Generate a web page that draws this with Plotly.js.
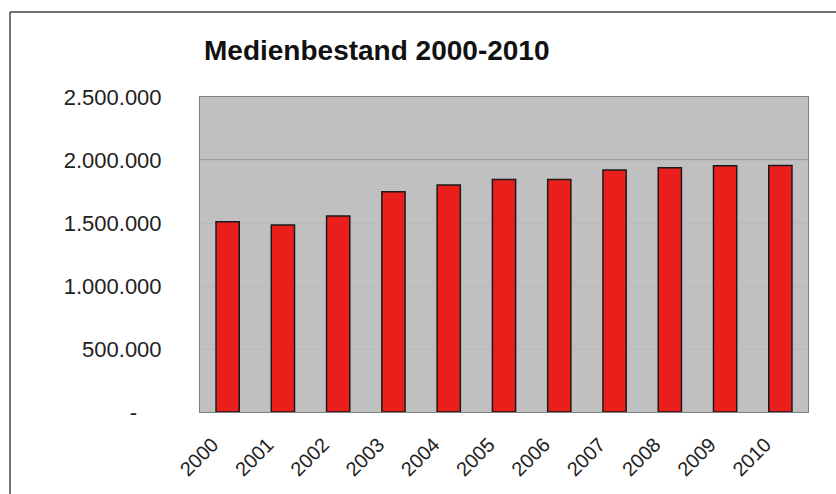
<!DOCTYPE html>
<html>
<head>
<meta charset="utf-8">
<script src="https://cdn.plot.ly/plotly-3.0.1.min.js"></script>
<style>
  html, body { margin: 0; padding: 0; background: #ffffff; }
  #chart { width: 836px; height: 494px; }
</style>
</head>
<body>
<div id="chart"></div>
<script>
// Data
const years = ['2000','2001','2002','2003','2004','2005','2006','2007','2008','2009','2010'];
const bestand = [1510000, 1484000, 1556000, 1748000, 1802000, 1845000, 1845000, 1920000, 1939000, 1955000, 1957000];
const yTickVals = [0, 500000, 1000000, 1500000, 2000000, 2500000];
const yTickText = ['-\u00a0\u00a0\u00a0\u00a0', '500.000', '1.000.000', '1.500.000', '2.000.000', '2.500.000'];
const chartTitle = 'Medienbestand 2000-2010';
const gridHighlight = 2000000;

const FONT = 'Arial, "Liberation Sans", sans-serif';

const trace = {
  type: 'bar',
  x: years,
  y: bestand,
  width: 0.42,
  marker: { color: '#ea1f1c', line: { color: '#1a1a1a', width: 1.5 } },
  hoverinfo: 'x+y'
};

// plot area: left 200, right 808, top 97, bottom 412
const L = 200, R = 808, T = 97, B = 412, W = 836, H = 494;
const pw = R - L, ph = B - T;
const px = v => (v - L) / pw;
const py = v => (B - v) / ph;

const layout = {
  width: W, height: H,
  margin: { l: L, r: W - R, t: T, b: H - B, pad: 0 },
  paper_bgcolor: '#ffffff',
  plot_bgcolor: '#c0c0c0',
  showlegend: false,
  title: {
    text: '<b>' + chartTitle + '</b>',
    font: { family: FONT, size: 28, color: '#111111' },
    xref: 'paper', x: px(204), xanchor: 'left',
    yref: 'container', y: 1 - 50 / H, yanchor: 'middle'
  },
  xaxis: {
    type: 'category',
    tickangle: -45,
    tickfont: { family: FONT, size: 20, color: '#222222' },
    showgrid: false,
    zeroline: false,
    showline: true, linecolor: '#808080', linewidth: 1, mirror: true,
    ticks: '', ticklabelstandoff: 12, ticklabelshift: -15
  },
  yaxis: {
    range: [0, 2500000],
    tickvals: yTickVals,
    ticktext: yTickText,
    tickfont: { family: FONT, size: 22, color: '#222222' },
    showgrid: true, gridcolor: '#b9b9b9', gridwidth: 1,
    zeroline: false,
    showline: true, linecolor: '#808080', linewidth: 1, mirror: true,
    ticks: '', ticklabelstandoff: 33
  },
  shapes: [
    { type: 'line', xref: 'paper', yref: 'y', x0: 0, x1: 1, y0: gridHighlight, y1: gridHighlight, layer: 'below', line: { color: '#7c7c7c', width: 1 } },
    { type: 'line', xref: 'paper', yref: 'paper', x0: px(10), x1: px(840), y0: py(12), y1: py(12), line: { color: '#444444', width: 1.5 } },
    { type: 'line', xref: 'paper', yref: 'paper', x0: px(10), x1: px(10), y0: py(12), y1: py(500), line: { color: '#444444', width: 1.5 } }
  ]
};

Plotly.newPlot('chart', [trace], layout, { displayModeBar: false, staticPlot: true });
</script>
</body>
</html>
